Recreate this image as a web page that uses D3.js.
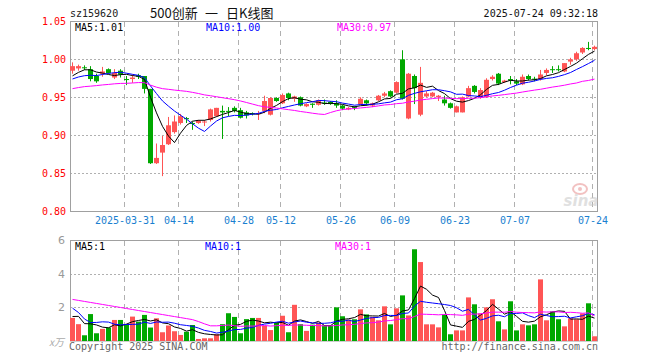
<!DOCTYPE html>
<html><head><meta charset="utf-8">
<script src="https://cdn.jsdelivr.net/npm/d3@7"></script>
<style>body{margin:0;background:#fff}svg{display:block}</style>
</head><body>
<script>
// ---------- data ----------
const dates = ["03-18","03-19","03-20","03-21","03-24","03-25","03-26","03-27","03-28","03-31",
"04-01","04-02","04-03","04-07","04-08","04-09","04-10","04-11","04-14","04-15","04-16","04-17","04-18","04-21","04-22","04-23","04-24","04-25","04-28","04-29","04-30",
"05-06","05-07","05-08","05-09","05-12","05-13","05-14","05-15","05-16","05-19","05-20","05-21","05-22","05-23","05-26","05-27","05-28","05-29","05-30",
"06-03","06-04","06-05","06-06","06-09","06-10","06-11","06-12","06-13","06-16","06-17","06-18","06-19","06-20","06-23","06-24","06-25","06-26","06-27","06-30",
"07-01","07-02","07-03","07-04","07-07","07-08","07-09","07-10","07-11","07-14","07-15","07-16","07-17","07-18","07-21","07-22","07-23","07-24"];
const open = [0.985,0.988,0.9895,0.987,0.978,0.981,0.987,0.976,0.985,0.974,
0.974,0.979,0.978,0.961,0.863,0.877,0.888,0.904,0.916,0.9225,
0.916,0.916,0.917,0.920,0.925,0.932,0.932,0.936,0.933,0.930,
0.929,0.928,0.932,0.927,0.949,0.942,0.955,0.948,0.950,0.938,
0.9415,0.940,0.943,0.944,0.942,0.939,0.934,0.937,0.941,0.946,
0.939,0.946,0.952,0.958,0.956,1.000,0.922,0.978,0.927,0.951,
0.951,0.950,0.947,0.942,0.930,0.930,0.951,0.965,0.950,0.950,
0.974,0.981,0.970,0.974,0.971,0.967,0.978,0.9745,0.974,0.982,
0.987,0.987,0.984,0.997,1.000,1.009,1.015,1.0135];
const high = [0.996,0.993,0.992,0.991,0.981,0.990,0.988,0.987,0.987,0.978,
0.980,0.981,0.978,0.961,0.889,0.899,0.924,0.926,0.928,0.924,
0.918,0.920,0.920,0.935,0.936,0.939,0.937,0.938,0.936,0.932,
0.930,0.932,0.952,0.950,0.950,0.955,0.956,0.952,0.951,0.942,
0.942,0.947,0.947,0.945,0.946,0.940,0.937,0.938,0.950,0.947,
0.943,0.953,0.957,0.959,0.971,1.012,0.982,0.980,0.990,0.958,
0.957,0.953,0.952,0.943,0.939,0.951,0.965,0.966,0.962,0.975,
0.979,0.982,0.973,0.978,0.974,0.980,0.980,0.977,0.986,0.988,
0.991,0.992,0.995,1.002,1.010,1.016,1.023,1.018];
const low = [0.981,0.985,0.986,0.971,0.969,0.977,0.981,0.974,0.976,0.966,
0.969,0.974,0.955,0.862,0.862,0.846,0.887,0.902,0.914,0.916,
0.907,0.915,0.912,0.918,0.924,0.895,0.925,0.930,0.922,0.922,
0.926,0.920,0.929,0.926,0.944,0.941,0.946,0.944,0.938,0.937,
0.936,0.939,0.940,0.940,0.936,0.933,0.933,0.933,0.940,0.939,
0.937,0.945,0.950,0.950,0.955,0.947,0.921,0.941,0.925,0.950,
0.950,0.945,0.939,0.935,0.930,0.930,0.950,0.955,0.948,0.949,
0.972,0.966,0.969,0.967,0.966,0.966,0.972,0.971,0.972,0.979,
0.982,0.984,0.983,0.993,0.998,1.007,1.012,1.012];
const close = [0.991,0.991,0.989,0.974,0.971,0.984,0.982,0.982,0.980,0.973,
0.976,0.977,0.961,0.863,0.870,0.887,0.913,0.918,0.925,0.921,
0.915,0.919,0.918,0.934,0.936,0.930,0.931,0.932,0.923,0.926,
0.928,0.929,0.945,0.949,0.945,0.953,0.949,0.951,0.939,0.941,
0.940,0.946,0.942,0.941,0.939,0.935,0.936,0.936,0.948,0.942,
0.942,0.952,0.955,0.951,0.970,0.948,0.981,0.962,0.969,0.955,
0.956,0.952,0.942,0.936,0.938,0.950,0.962,0.957,0.9595,0.973,
0.977,0.968,0.972,0.972,0.968,0.977,0.974,0.974,0.980,0.986,
0.986,0.986,0.995,1.000,1.008,1.015,1.0145,1.0165];
// closes before the visible window (estimated from the moving-average lines)
const priorCloses = [0.948,0.952,0.955,0.950,0.957,0.962,0.958,0.965,0.968,0.963,0.960,0.966,0.959,
0.952,0.945,0.940,0.948,0.950,0.946,0.955,0.965,0.972,0.968,0.975,0.970,0.968,0.972,0.974,0.986];
// volume, unit 万
const volume = [1.37,1.0,0.34,1.6,0.46,0.72,0.8,1.25,1.25,1.0,
1.45,1.15,1.55,0.8,1.35,0.52,0.92,0.58,0.36,0.55,
0.95,0.12,0.16,0.16,0.4,1.0,1.65,1.43,0.46,1.3,
1.37,1.37,0.9,0.65,1.1,1.5,0.52,2.15,1.0,0.6,
0.97,1.1,0.93,0.93,2.0,1.47,1.27,1.29,1.88,1.58,
1.43,1.23,2.06,0.99,1.94,2.71,1.52,5.45,4.69,0.99,
0.99,0.81,1.58,0.40,0.63,0.63,2.59,2.18,1.64,2.0,
2.48,1.17,0.69,2.36,0.63,0.99,0.93,0.99,3.66,1.23,
1.76,1.29,0.87,1.35,1.29,1.64,2.24,0.28];
const priorVolumes = [2.8,2.14,3.4,2.26,2.52,2.6,3.05,3.05,2.8,3.25,2.95,3.35,2.6,3.15,2.32,2.72,2.38,2.16,2.35,2.75,
3.6,4.2,3.7,0.4,0.35,0.95,2.5,1.65,0.8];
const priceTicks = [0.80,0.85,0.90,0.95,1.00,1.05];
const volTicks = [2,4,6];
const tickIdx = [9,18,28,35,45,54,64,74,87];
const tickLabels = ["2025-03-31","04-14","04-28","05-12","05-26","06-09","06-23","07-07","07-24"];
const maPeriods = [5,10,30];
const maColors = ["#000000","#0000ff","#ff00ff"];

// ---------- helpers ----------
function movingAvg(prior, arr, n){
  const all = prior.concat(arr), off = prior.length;
  return arr.map((_, i) => {
    const s = all.slice(Math.max(0, off + i - n + 1), off + i + 1);
    return d3.mean(s);
  });
}
const N = close.length;
const W = 660, H = 360;
const L = 70, R = 597;
const svg = d3.select("body").append("svg").attr("width", W).attr("height", H)
  .style("font-family", "'DejaVu Sans Mono', monospace").style("font-size", "10px");

const x = d3.scaleLinear().domain([0, N - 1]).range([72.5, 594.5]);
const xg = i => x(i) - 2;
const yP = d3.scaleLinear().domain([0.80, 1.05]).range([211, 21.4]);
const yV = d3.scaleLinear().domain([0, 6]).range([341, 240]);

const RED = "#ff5555", GREEN = "#00a800", GRID = "#b0b0b0", FRAME = "#a0a0a0";

// ---------- header ----------
svg.append("text").attr("x", 70).attr("y", 17).attr("fill", "#222").text("sz159620");
const cjk = "'Noto Sans CJK SC', 'DejaVu Sans Mono', sans-serif";
const titleParts = [["500创新", 150], ["一", 205], ["日K线图", 226]];
titleParts.forEach(([t, px]) => {
  svg.append("text").attr("x", px).attr("y", 18).attr("fill", "#111")
    .style("font-family", cjk).style("font-size", "13px").text(t);
});
svg.append("text").attr("x", 598).attr("y", 17).attr("text-anchor", "end").attr("fill", "#111")
  .text("2025-07-24 09:32:18");

// ---------- price panel ----------
const gp = svg.append("g");
gp.selectAll("line.hg").data(priceTicks.filter(d => d > 0.80 && d < 1.05)).join("line")
  .attr("x1", L).attr("x2", R).attr("y1", d => Math.round(yP(d)) + 0.5).attr("y2", d => Math.round(yP(d)) + 0.5)
  .attr("stroke", GRID).attr("stroke-dasharray", "2,2");
gp.selectAll("line.vg").data(tickIdx).join("line")
  .attr("x1", d => xg(d)).attr("x2", d => xg(d)).attr("y1", 22).attr("y2", 211)
  .attr("stroke", GRID).attr("stroke-dasharray", "5,4");
gp.append("rect").attr("x", L + 0.5).attr("y", 21.5).attr("width", R - L).attr("height", 190)
  .attr("fill", "none").attr("stroke", FRAME);

// watermark
const wm = svg.append("g").attr("opacity", 0.55);
wm.append("ellipse").attr("cx", 580).attr("cy", 189).attr("rx", 7).attr("ry", 5).attr("fill", "none").attr("stroke", "#e89090").attr("stroke-width", 2);
wm.append("circle").attr("cx", 580).attr("cy", 189).attr("r", 2).attr("fill", "#e89090");
wm.append("text").attr("x", 581).attr("y", 206).attr("text-anchor", "middle")
  .style("font-family", "'DejaVu Sans', sans-serif").style("font-size", "15px").style("font-style", "italic").style("font-weight", "bold")
  .attr("fill", "#c8c8c8").text("sina");

// y axis labels
const ya = svg.append("g").attr("transform", `translate(${L},0)`)
  .call(d3.axisLeft(yP).tickValues(priceTicks).tickFormat(d3.format(".2f")).tickSize(0).tickPadding(4));
ya.select(".domain").remove();
ya.selectAll("text").attr("fill", "#ff0000").style("font-family", "'DejaVu Sans Mono', monospace").style("font-size", "10px");

// x axis labels
const xa = svg.append("g").attr("transform", "translate(0,215)")
  .call(d3.axisBottom(d3.scaleLinear().domain([0, N - 1]).range([x(0) - 2, x(N - 1) - 2]))
    .tickValues(tickIdx).tickFormat((d, k) => tickLabels[k]).tickSize(0).tickPadding(2));
xa.select(".domain").remove();
xa.selectAll("text").attr("fill", "#1a7fd0").style("font-family", "'DejaVu Sans Mono', monospace").style("font-size", "10px");

// candles
const idx = d3.range(N);
const cg = gp.append("g");
cg.selectAll("line.wick").data(idx).join("line")
  .attr("x1", i => x(i)).attr("x2", i => x(i))
  .attr("y1", i => yP(high[i])).attr("y2", i => yP(low[i]))
  .attr("stroke", i => close[i] >= open[i] ? RED : GREEN);
cg.selectAll("rect.body").data(idx).join("rect")
  .attr("x", i => x(i) - 2.5).attr("width", 5)
  .attr("y", i => yP(Math.max(open[i], close[i])))
  .attr("height", i => Math.max(1, Math.abs(yP(open[i]) - yP(close[i]))))
  .attr("fill", i => close[i] >= open[i] ? RED : GREEN);

// MA lines on price
const priceMA = maPeriods.map(n => movingAvg(priorCloses, close, n));
priceMA.forEach((m, k) => {
  gp.append("path").datum(m).attr("fill", "none").attr("stroke", maColors[k]).attr("stroke-width", 1)
    .attr("d", d3.line().x((d, i) => x(i)).y(d => yP(d)));
});
const f2 = d3.format(".2f");
const maLabelX = [75, 206, 337];
maPeriods.forEach((n, k) => {
  svg.append("text").attr("x", maLabelX[k]).attr("y", 31).attr("fill", maColors[k])
    .text(`MA${n}:${f2(priceMA[k][N - 1])}`);
});

// ---------- volume panel ----------
const gv = svg.append("g");
gv.selectAll("line.hg").data(volTicks.filter(d => d < 6)).join("line")
  .attr("x1", L).attr("x2", R).attr("y1", d => Math.round(yV(d)) + 0.5).attr("y2", d => Math.round(yV(d)) + 0.5)
  .attr("stroke", GRID).attr("stroke-dasharray", "2,2");
gv.selectAll("line.vg").data(tickIdx).join("line")
  .attr("x1", d => xg(d)).attr("x2", d => xg(d)).attr("y1", 241).attr("y2", 341)
  .attr("stroke", GRID).attr("stroke-dasharray", "5,4");
gv.append("rect").attr("x", L + 0.5).attr("y", 240.5).attr("width", R - L).attr("height", 100.5)
  .attr("fill", "none").attr("stroke", FRAME);

gv.selectAll("rect.vol").data(idx).join("rect")
  .attr("x", i => x(i) - 2.5).attr("width", 5)
  .attr("y", i => yV(volume[i])).attr("height", i => yV(0) - yV(volume[i]))
  .attr("fill", i => close[i] >= open[i] ? RED : GREEN);

const volMA = maPeriods.map(n => movingAvg(priorVolumes, volume, n));
volMA.forEach((m, k) => {
  gv.append("path").datum(m).attr("fill", "none").attr("stroke", maColors[k]).attr("stroke-width", 1)
    .attr("d", d3.line().x((d, i) => x(i)).y(d => yV(d)));
});
const volLabelX = [75, 205, 335];
maPeriods.forEach((n, k) => {
  svg.append("text").attr("x", volLabelX[k]).attr("y", 250).attr("fill", maColors[k])
    .text(`MA${n}:${Math.floor(volMA[k][N - 1])}`);
});

const va = svg.append("g").attr("transform", `translate(${L},0)`)
  .call(d3.axisLeft(yV).tickValues(volTicks).tickFormat(d3.format("d")).tickSize(0).tickPadding(5));
va.select(".domain").remove();
va.selectAll("text").attr("fill", "#999").style("font-family", "'DejaVu Sans', sans-serif").style("font-size", "11px");
svg.append("text").attr("x", 49).attr("y", 346).attr("fill", "#aaa").style("font-style", "italic")
  .style("font-family", "'Noto Sans CJK SC', sans-serif").style("font-size", "10px").text("x万");

svg.append("text").attr("x", 69).attr("y", 350).attr("fill", "#666").text("Copyright 2025 SINA.COM");
svg.append("text").attr("x", 598).attr("y", 350).attr("text-anchor", "end").attr("fill", "#666").text("http://finance.sina.com.cn");
</script>
</body></html>
